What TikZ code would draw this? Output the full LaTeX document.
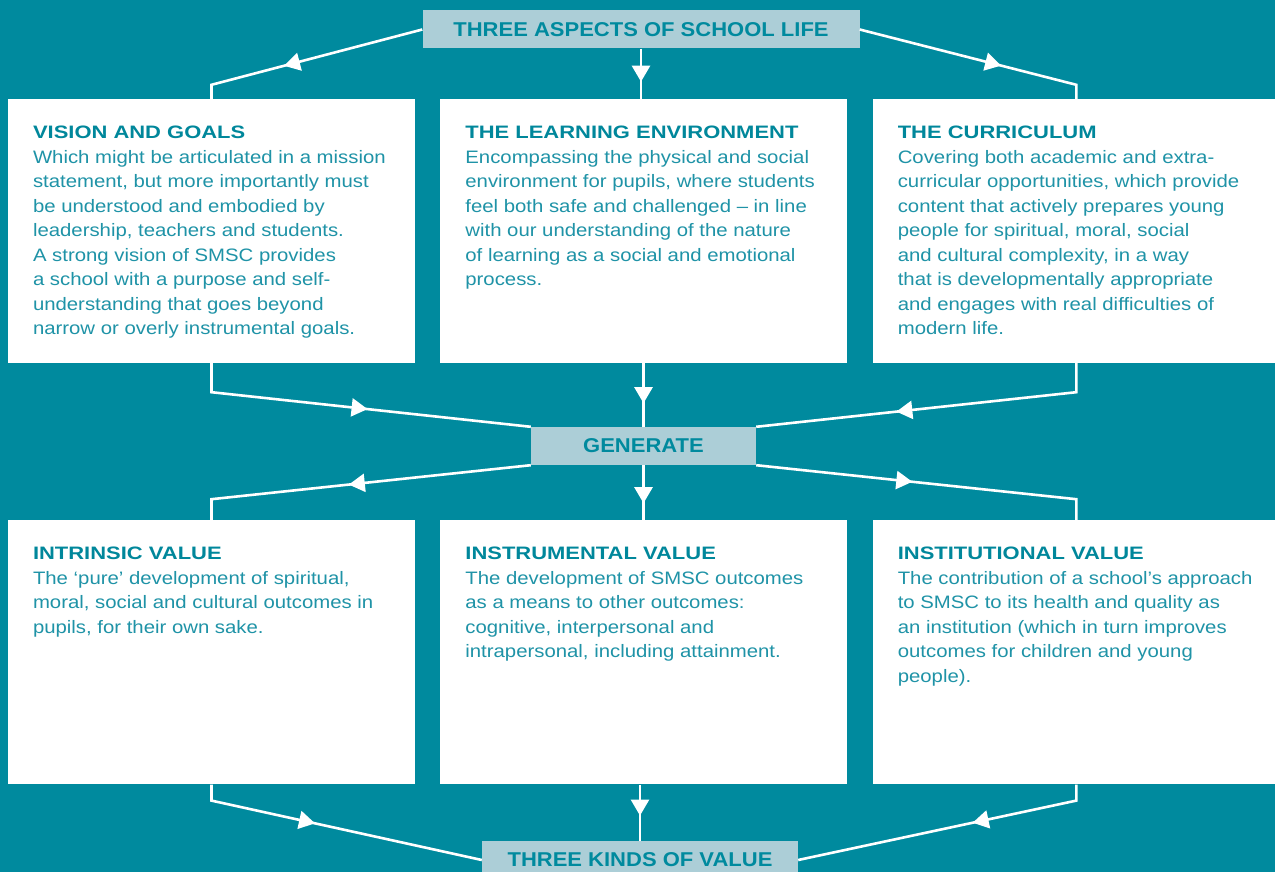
\documentclass[tikz,border=0pt]{standalone}
\usepackage{fontspec}
\setmainfont{Liberation Sans}[FakeStretch=1.13]
\newfontfamily\headfont{Liberation Sans}[FakeStretch=1.22]
\newfontfamily\tagfont{Liberation Sans}[FakeStretch=1.1]
\usetikzlibrary{positioning,arrows.meta,decorations.markings}
\definecolor{seateal}{HTML}{008A9E}
\definecolor{tagblue}{HTML}{ACCED7}
\definecolor{headteal}{HTML}{00879B}
\definecolor{bodyteal}{HTML}{1F93A7}
\newcommand{\boxhead}[1]{{\headfont\bfseries\color{headteal}#1}}

\begin{document}
\begin{tikzpicture}[x=1pt,y=-1pt,
    panel/.style={fill=white,minimum width=407pt,minimum height=264pt,inner sep=0pt},
    tag/.style={fill=tagblue,text=seateal,font=\tagfont\bfseries\fontsize{20}{24}\selectfont,minimum height=38pt,inner sep=0pt},
    blurb/.style={anchor=north west,align=left,inner sep=0pt,text=bodyteal,font=\fontsize{18}{24.5}\selectfont},
    link/.style={white,line width=2.6pt},
    tipat/.style={postaction={decorate},decoration={markings,mark=at position #1 with {\arrow{Triangle[length=16pt,width=18pt]}}}}]
    \fill[seateal] (0,0) rectangle (1275,872);
    \useasboundingbox (0,0) rectangle (1275,872);

    % the three aspects
    \node[tag,minimum width=437pt] (asp) at (641,29.5) {THREE ASPECTS OF SCHOOL LIFE};
    \node[panel] (vis) at (211.5,231) {};
    \node[panel,right=25pt of vis] (env) {};
    \node[panel,right=25pt of env] (cur) {};
    \node[tag,minimum width=225pt] (gen) at (643.5,446) {GENERATE};

    % the three kinds of value
    \node[panel,below=157pt of vis] (intr) {};
    \node[panel,right=25pt of intr] (instr) {};
    \node[panel,right=25pt of instr] (inst) {};
    \node[tag,minimum width=316pt] (kinds) at (640,860) {THREE KINDS OF VALUE};

    \node[blurb] (vistxt) at ([shift={(25,27)}]vis.north west) {\boxhead{VISION AND GOALS}\\
      Which might be articulated in a mission\\
      statement, but more importantly must\\
      be understood and embodied by\\
      leadership, teachers and students.\\
      A strong vision of SMSC provides\\
      a school with a purpose and self-\\
      understanding that goes beyond\\
      narrow or overly instrumental goals.};
    \node[blurb] (envtxt) at ([shift={(25,27)}]env.north west) {\boxhead{THE LEARNING ENVIRONMENT}\\
      Encompassing the physical and social\\
      environment for pupils, where students\\
      feel both safe and challenged – in line\\
      with our understanding of the nature\\
      of learning as a social and emotional\\
      process.};
    \node[blurb] (curtxt) at ([shift={(25,27)}]cur.north west) {\boxhead{THE CURRICULUM}\\
      Covering both academic and extra-\\
      curricular opportunities, which provide\\
      content that actively prepares young\\
      people for spiritual, moral, social\\
      and cultural complexity, in a way\\
      that is developmentally appropriate\\
      and engages with real difficulties of\\
      modern life.};
    \node[blurb] (intrtxt) at ([shift={(25,27)}]intr.north west) {\boxhead{INTRINSIC VALUE}\\
      The ‘pure’ development of spiritual,\\
      moral, social and cultural outcomes in\\
      pupils, for their own sake.};
    \node[blurb] (instrtxt) at ([shift={(25,27)}]instr.north west) {\boxhead{INSTRUMENTAL VALUE}\\
      The development of SMSC outcomes\\
      as a means to other outcomes:\\
      cognitive, interpersonal and\\
      intrapersonal, including attainment.};
    \node[blurb] (insttxt) at ([shift={(25,27)}]inst.north west) {\boxhead{INSTITUTIONAL VALUE}\\
      The contribution of a school’s approach\\
      to SMSC to its health and quality as\\
      an institution (which in turn improves\\
      outcomes for children and young\\
      people).};

    % elbows of the connectors
    \coordinate[above=14pt of vis.north] (visin);
    \coordinate[above=14pt of cur.north] (curin);
    \coordinate[below=29pt of vis.south] (visout);
    \coordinate[below=29pt of cur.south] (curout);
    \coordinate[above=21pt of intr.north] (intrin);
    \coordinate[above=21pt of inst.north] (instin);
    \coordinate[below=16pt of intr.south] (introut);
    \coordinate[below=16pt of inst.south] (instout);

    \draw[link,tipat=143pt] (asp.west) -- (visin) -- (vis.north);
    \draw[link,tipat=146pt] (asp.east) -- (curin) -- (cur.north);
    \draw[link,tipat=33pt] (asp.south) -- (asp.south |- env.north);
    \draw[link,tipat=186pt] (vis.south) -- (visout) -- (gen.north west);
    \draw[link,tipat=210pt] (cur.south) -- (curout) -- (gen.north east);
    \draw[link,tipat=40pt] (gen.north |- env.south) -- (gen.north);
    \draw[link,tipat=183pt] (gen.south west) -- (intrin) -- (intr.north);
    \draw[link,tipat=157pt] (gen.south east) -- (instin) -- (inst.north);
    \draw[link,tipat=38pt] (gen.south) -- (gen.south |- instr.north);
    \draw[link,tipat=122pt] (intr.south) -- (introut) -- (kinds.west);
    \draw[link,tipat=122pt] (inst.south) -- (instout) -- (kinds.east);
    \draw[link,tipat=31pt] (kinds.north |- instr.south) -- (kinds.north);
  \end{tikzpicture}
\end{document}
